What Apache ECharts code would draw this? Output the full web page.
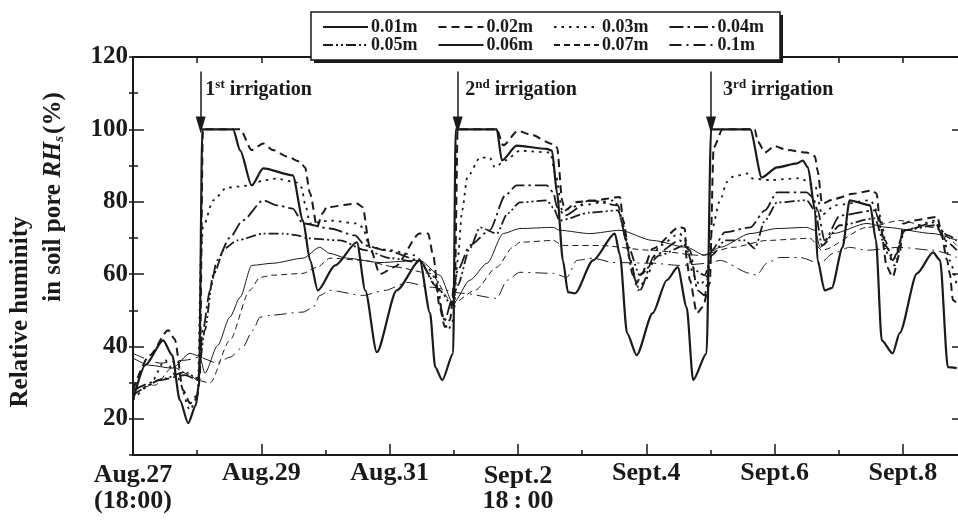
<!DOCTYPE html>
<html>
<head>
<meta charset="utf-8">
<script src="https://cdn.jsdelivr.net/npm/echarts@6/dist/echarts.min.js"></script>
<style>html,body{margin:0;padding:0;background:#fff;}#c{width:958px;height:520px;}</style>
</head>
<body>
<div id="c"></div>
<script>
// ---- DATA (x = days since Aug.27 18:00, y = relative humidity %) ----
const seriesNames = ['0.01m','0.02m','0.03m','0.04m','0.05m','0.06m','0.07m','0.1m'];

const rh001 = [[0,25.2],[0.19,34.8],[0.47,41.7],[0.61,37.6],[0.73,25.2],[0.86,18.8],[0.98,23.8],[1.03,29.9],[1.08,100],[1.56,100],[1.67,94.2],[1.85,84.5],[2.03,89.2],[2.49,87.3],[2.65,74.8],[2.76,63.8],[2.88,55.5],[3.15,62.4],[3.49,68.8],[3.62,55.5],[3.80,38.4],[4.11,55.5],[4.47,63.8],[4.63,49.2],[4.71,34.3],[4.82,30.7],[4.99,38.1],[5.03,100],[5.67,100],[5.75,91.4],[5.98,95.5],[6.45,94.6],[6.53,94.1],[6.61,82.3],[6.70,63.8],[6.78,55],[6.89,54.7],[7.17,63.8],[7.51,71.2],[7.59,65.2],[7.70,43.7],[7.85,37.6],[8.10,49.2],[8.32,58.3],[8.49,61.9],[8.63,50.8],[8.73,30.7],[8.94,38.1],[9.01,100],[9.62,100],[9.80,86.7],[10.04,89.5],[10.35,90.6],[10.44,91.4],[10.52,89.5],[10.63,77.6],[10.67,63.8],[10.78,55.5],[10.89,56.1],[11.06,67.4],[11.17,80.4],[11.49,79],[11.58,69.3],[11.67,41.7],[11.84,38.1],[11.95,43.7],[12.22,60.2],[12.47,66],[12.58,63.8],[12.70,34.3],[12.84,34]];

const rh002 = [[0,27.9],[0.26,37.6],[0.55,44.5],[0.65,42],[0.78,27.9],[0.89,24.3],[1.00,26.5],[1.04,30.7],[1.09,100],[1.67,100],[1.85,94.3],[2.03,96.1],[2.18,94.3],[2.40,92.5],[2.60,91.1],[2.68,89.5],[2.76,82.3],[2.87,73],[2.95,76.7],[3.02,78.5],[3.49,79.5],[3.58,78.5],[3.69,67.5],[3.85,60],[4.08,62],[4.47,71.2],[4.60,71.2],[4.68,65],[4.78,50.9],[4.86,45.4],[4.94,47.3],[5.02,60],[5.06,100],[5.67,100],[5.77,95.6],[6.00,99.6],[6.19,98.6],[6.55,95.9],[6.61,95],[6.69,80.3],[6.73,77.6],[6.92,79.9],[7.17,80.3],[7.59,81.3],[7.64,74.8],[7.75,63.8],[7.85,57.5],[7.93,60.2],[8.10,67],[8.52,73],[8.60,72.6],[8.63,63.8],[8.68,58.3],[8.79,49.2],[8.88,50.9],[8.99,57.5],[9.05,95],[9.19,100],[9.69,100],[9.74,96.6],[9.85,93.6],[10.00,95.4],[10.19,94.3],[10.50,93.6],[10.63,92.6],[10.67,88.6],[10.74,79.5],[10.94,80.8],[11.22,82.2],[11.52,83.1],[11.59,82.3],[11.64,74.8],[11.75,62],[11.84,59.2],[11.95,65.6],[12.00,73.9],[12.16,74.8],[12.54,75.8],[12.58,73],[12.69,63.8],[12.73,60.2],[12.78,52.8],[12.84,52]];

const rh003 = [[0,25.2],[0.26,29.3],[0.50,36.2],[0.70,31.2],[0.89,22.4],[1.01,26.5],[1.06,65.7],[1.09,72.9],[1.25,80.4],[1.46,83.9],[1.82,84.5],[2.03,85.9],[2.24,86.4],[2.56,85.3],[2.63,83.9],[2.68,79.5],[2.76,74],[3.07,74.8],[3.49,74],[3.58,72.9],[3.69,67.4],[4.01,66.6],[4.39,65.2],[4.58,61.9],[4.74,58.3],[4.83,48.1],[4.91,44.5],[4.99,47.2],[5.06,63.8],[5.13,77.6],[5.21,86.7],[5.41,92.2],[5.56,92.2],[5.64,89.5],[5.80,91.4],[6.03,94.1],[6.50,93.6],[6.59,87.3],[6.69,77.6],[6.97,79],[7.51,80.4],[7.62,74.8],[7.75,63.8],[7.87,55.5],[7.98,58.3],[8.21,67.9],[8.52,71.2],[8.62,69.3],[8.73,59.7],[8.84,56.9],[8.96,59.7],[9.02,72.1],[9.15,80.4],[9.26,85.5],[9.35,86.9],[9.57,87.8],[9.66,86.4],[9.93,86],[10.39,86.5],[10.63,84.5],[10.74,76.4],[10.94,79],[11.49,80.4],[11.64,76.2],[11.77,65.2],[11.87,62.4],[12.03,72.1],[12.50,74.8],[12.61,72.1],[12.73,63.8],[12.84,56.9]];

const rh004 = [[0,27.9],[0.42,30.7],[0.81,32.1],[1.01,30.7],[1.09,44.5],[1.20,55.5],[1.31,63.8],[1.51,70.1],[1.71,74.8],[2.03,80.4],[2.24,79],[2.49,78.1],[2.65,74],[3.07,72.6],[3.46,70.7],[3.62,67.9],[3.93,66.6],[4.47,63.8],[4.71,56.9],[4.86,47.2],[4.97,52.8],[5.06,61],[5.25,67.9],[5.56,72.1],[5.80,81.7],[5.98,84.5],[6.45,84.5],[6.55,82.6],[6.61,78.5],[6.73,76.2],[7.12,80.4],[7.56,79],[7.67,70.7],[7.79,59.7],[7.90,55.5],[8.13,65.2],[8.52,69.3],[8.68,66.6],[8.80,55.5],[8.91,54.1],[9.02,66.6],[9.23,71.6],[9.62,72.9],[9.85,77.6],[10.04,82.6],[10.50,82.6],[10.60,81.2],[10.67,77.6],[10.78,69.3],[11.02,76.2],[11.56,77.6],[11.72,69.3],[11.84,63.8],[12.03,72.1],[12.50,74.3],[12.65,69.3],[12.84,66.6]];

const rh005 = [[0,26.6],[0.50,31.2],[0.81,32.9],[1.01,31.2],[1.12,44.5],[1.25,59.7],[1.43,67.1],[1.62,69.3],[2.03,71.2],[2.34,71.2],[2.56,70.7],[2.71,69.9],[3.23,69.3],[3.62,66.6],[4.01,64.4],[4.47,63.2],[4.78,55.5],[4.97,51.4],[5.06,56.9],[5.25,67.1],[5.41,72.9],[5.67,71.2],[5.84,76.8],[6.03,79.8],[6.45,80.4],[6.55,78.4],[6.65,74.8],[7.12,77],[7.56,77.6],[7.71,67.9],[7.90,59.7],[8.21,65.2],[8.60,67.9],[8.76,61],[8.91,59.7],[9.02,65.2],[9.23,69.3],[9.54,69.3],[9.69,67.1],[9.85,74.8],[10.04,79.8],[10.50,80.4],[10.63,77.6],[10.74,67.9],[11.02,73.5],[11.56,75.4],[11.72,67.9],[11.87,64.4],[12.03,72.1],[12.50,73.5],[12.70,70.7],[12.84,69.3]];

const rh006 = [[0,36.8],[0.26,34.8],[0.61,34],[0.89,38.1],[1.04,37.3],[1.12,32.6],[1.32,40.3],[1.51,48.1],[1.67,53.6],[1.85,62.4],[2.18,63],[2.65,64.4],[2.91,67.4],[3.07,65.7],[3.33,64.4],[3.85,63.2],[4.47,63.8],[4.78,59.7],[4.99,51.9],[5.25,58.3],[5.52,63],[5.77,71.2],[6.03,72.6],[6.55,72.9],[6.65,72.1],[7.12,71.2],[7.59,72.1],[8.10,69.3],[8.63,67.4],[8.91,65.2],[9.15,67.4],[9.62,71.2],[10.04,72.6],[10.50,72.9],[10.63,72.1],[10.71,67.4],[10.91,71.2],[11.44,74],[11.75,72.9],[12.47,71.2],[12.84,69.3]];

const rh007 = [[0,27.9],[0.34,29.3],[0.62,34.3],[0.89,32.1],[1.00,30.7],[1.20,29.9],[1.51,41.7],[1.82,55.5],[1.98,59.1],[2.18,59.7],[2.65,60.2],[2.87,61.9],[3.07,64.4],[3.58,63.8],[4.11,61.9],[4.63,60.2],[4.99,51.9],[5.33,55.5],[5.67,61.9],[5.92,67.4],[6.03,68.8],[6.55,69.3],[6.70,67.9],[7.28,67.9],[8.06,66.6],[8.84,65.2],[9.35,67.4],[9.88,69.3],[10.55,69.9],[10.74,66.6],[11.44,72.9],[11.95,74.8],[12.47,72.9],[12.84,67.9]];

const rh010 = [[0,38.1],[0.42,35.4],[0.81,36.2],[1.04,37],[1.31,35.4],[1.51,37],[1.71,39.8],[1.87,44.5],[1.98,48.1],[2.13,48.6],[2.65,49.5],[2.81,50.8],[2.91,54.1],[3.07,55.5],[3.58,54.1],[3.93,55.5],[4.27,57.7],[4.63,56.4],[5.14,54.7],[5.67,53.3],[5.83,58.3],[6.03,60.5],[6.55,60.2],[6.76,59.1],[6.92,63.8],[7.17,64.4],[7.48,63.2],[8.10,63],[8.52,62.4],[8.99,63],[9.15,63.8],[9.62,60.2],[9.72,59.7],[9.88,63],[10.08,64.6],[10.39,64.6],[10.71,63],[10.91,65.7],[11.17,67.4],[11.44,66.6],[11.95,67.4],[12.47,66.6],[12.84,64.6]];

const xTickDays   = [0, 2, 4, 6, 8, 10, 12];
const xTickLabels = ['{a|Aug.27}\n{b|(18:00)}', 'Aug.29', 'Aug.31', '{c|Sept.2}\n{d|18\u2009:\u200900}', 'Sept.4', 'Sept.6', 'Sept.8'];
const yTickValues = [20, 40, 60, 80, 100, 120];
const irrigationDays   = [1.055, 5.06, 9.01];
const irrigationLabels = ['1|st', '2|nd', '3|rd'];
const irrigationLabelDays = [1.12, 5.17, 9.19];

// ---- STYLE ----
const FONT = '"Liberation Serif", "Times New Roman", serif';
const INK = '#1a1a1a';
const lineStyles = [
  {width: 2.2, type: 'solid'},
  {width: 2.0, type: [8, 5]},
  {width: 1.8, type: [2.5, 5]},
  {width: 1.8, type: [14, 4, 2.5, 4]},
  {width: 1.8, type: [10, 3, 2, 3, 2, 3]},
  {width: 1.0, type: 'solid'},
  {width: 1.0, type: [6, 4]},
  {width: 1.0, type: [12, 5, 2, 5]}
];
const allData = [rh001, rh002, rh003, rh004, rh005, rh006, rh007, rh010];

const XMAX = 12.89;
const chart = echarts.init(document.getElementById('c'), null, {renderer: 'canvas'});

const series = seriesNames.map((name, i) => {
  const s = {
    name: name,
    type: 'line',
    data: allData[i],
    xAxisIndex: 0,
    yAxisIndex: 0,
    symbol: 'none',
    showSymbol: false,
    smooth: 0.25,
    smoothMonotone: 'x',
    color: INK,
    lineStyle: Object.assign({color: INK, cap: 'butt', join: 'round'}, lineStyles[i]),
    animation: false,
    z: 10 - i
  };
  if (i === 0) {
    s.markLine = {
      silent: true,
      symbol: ['none', 'triangle'],
      symbolSize: [10, 17],
      lineStyle: {color: INK, width: 1.5, type: 'solid'},
      label: {show: false},
      animation: false,
      data: irrigationDays.map(d => [{coord: [d, 116]}, {coord: [d, 101.2]}])
    };
    s.markPoint = {
      silent: true,
      symbol: 'circle',
      symbolSize: 1,
      itemStyle: {color: 'rgba(0,0,0,0)'},
      animation: false,
      label: {
        show: true,
        position: 'right',
        distance: 0,
        color: INK,
        fontFamily: FONT,
        fontWeight: 'bold',
        formatter: p => {
          const parts = p.name.split('|');
          return '{n|' + parts[0] + '}{s|' + parts[1] + '}{t| irrigation}';
        },
        rich: {
          n: {fontSize: 20, fontWeight: 'bold', fontFamily: FONT, color: INK},
          s: {fontSize: 13, fontWeight: 'bold', fontFamily: FONT, color: INK, padding: [0, 0, 11, 0]},
          t: {fontSize: 20, fontWeight: 'bold', fontFamily: FONT, color: INK}
        }
      },
      data: irrigationLabelDays.map((d, k) => ({name: irrigationLabels[k], coord: [d, 110.9]}))
    };
  }
  return s;
});

const legendBase = {
  itemWidth: 45,
  itemHeight: 2,
  itemGap: 20,
  padding: 0,
  selectedMode: false,
  z: 60,
  itemStyle: {opacity: 0, borderWidth: 0},
  textStyle: {fontFamily: FONT, fontWeight: 'bold', fontSize: 18, color: INK, padding: [0, 0, 0, -2]}
};

const option = {
  animation: false,
  backgroundColor: '#fff',
  grid: {left: 133, right: -2, top: 57, bottom: 65, containLabel: false, outerBoundsMode: 'none'},
  legend: [
    Object.assign({}, legendBase, {data: seriesNames.slice(0, 4), left: 322, top: 18}),
    Object.assign({}, legendBase, {data: seriesNames.slice(4), left: 322, top: 36})
  ],
  xAxis: [
    {
      type: 'value', min: 0, max: XMAX, interval: 2, position: 'bottom',
      axisLine: {show: true, lineStyle: {color: INK, width: 2}},
      axisTick: {show: true, inside: true, length: 11, lineStyle: {color: INK, width: 1.5}},
      splitLine: {show: false},
      axisLabel: {
        show: true, margin: 4, showMaxLabel: false,
        color: INK, fontFamily: FONT, fontWeight: 'bold', fontSize: 26, lineHeight: 28,
        formatter: v => { const k = xTickDays.indexOf(v); return k < 0 ? '' : xTickLabels[k]; },
        rich: {
          a: {fontFamily: FONT, fontWeight: 'bold', fontSize: 26, lineHeight: 28, color: INK, padding: [4, 0, 0, 0]},
          b: {fontFamily: FONT, fontWeight: 'bold', fontSize: 26, lineHeight: 28, color: INK},
          c: {fontFamily: FONT, fontWeight: 'bold', fontSize: 26, lineHeight: 28, color: INK, padding: [7, 0, 0, 0]},
          d: {fontFamily: FONT, fontWeight: 'bold', fontSize: 26, lineHeight: 28, color: INK}
        }
      }
    },
    {
      type: 'value', min: 0, max: XMAX, interval: 1, position: 'bottom',
      axisLine: {show: false},
      axisTick: {show: true, inside: true, length: 5, lineStyle: {color: INK, width: 1.5}},
      axisLabel: {show: false}, splitLine: {show: false}
    },
    {
      type: 'value', min: 0, max: XMAX, interval: 1, position: 'top',
      axisLine: {show: true, lineStyle: {color: INK, width: 2}},
      axisTick: {show: true, inside: true, length: 6, lineStyle: {color: INK, width: 1.5}},
      axisLabel: {show: false}, splitLine: {show: false}
    }
  ],
  yAxis: [
    {
      type: 'value', min: 10, max: 120, interval: 10, position: 'left',
      axisLine: {show: true, lineStyle: {color: INK, width: 2}},
      axisTick: {show: true, inside: true, length: 11, customValues: yTickValues, lineStyle: {color: INK, width: 1.5}},
      splitLine: {show: false},
      axisLabel: {
        show: true, margin: 5, customValues: yTickValues,
        color: INK, fontFamily: FONT, fontWeight: 'bold', fontSize: 25
      }
    },
    {
      type: 'value', min: 10, max: 120, interval: 10, position: 'left',
      axisLine: {show: false},
      axisTick: {show: true, inside: true, length: 5, lineStyle: {color: INK, width: 1.5}},
      axisLabel: {show: false}, splitLine: {show: false}
    },
    {
      type: 'value', min: 10, max: 120, interval: 10, position: 'right',
      axisLine: {show: true, lineStyle: {color: INK, width: 2}},
      axisTick: {show: true, inside: true, length: 4, lineStyle: {color: INK, width: 1.5}},
      axisLabel: {show: false}, splitLine: {show: false}
    },
    {
      type: 'value', min: 10, max: 120, interval: 10, position: 'right',
      axisLine: {show: false},
      axisTick: {show: true, inside: true, length: 8, customValues: yTickValues, lineStyle: {color: INK, width: 1.5}},
      axisLabel: {show: false}, splitLine: {show: false}
    }
  ],
  graphic: [
    {type: 'rect', z: 50, silent: true, shape: {x: 314, y: 15, width: 469, height: 48}, style: {fill: INK}},
    {type: 'rect', z: 51, silent: true, shape: {x: 311, y: 12, width: 469, height: 48}, style: {fill: '#fff', stroke: INK, lineWidth: 1.5}},
    {
      type: 'text', z: 52, silent: true, x: 21, y: 312, rotation: Math.PI / 2,
      style: {text: 'Relative huminity', fill: INK, font: 'bold 25px ' + FONT, align: 'center', verticalAlign: 'middle'}
    },
    {
      type: 'text', z: 52, silent: true, x: 54, y: 197, rotation: Math.PI / 2,
      style: {
        text: '{a|in soil pore }{i|RH}{sub|s}{a|(%)}',
        align: 'center', verticalAlign: 'middle',
        rich: {
          a: {fill: INK, font: 'bold 25px ' + FONT},
          i: {fill: INK, font: 'italic bold 25px ' + FONT},
          sub: {fill: INK, font: 'italic bold 15px ' + FONT, padding: [10, 2, 0, 0]}
        }
      }
    }
  ],
  series: series
};
chart.setOption(option);
</script>
</body>
</html>
